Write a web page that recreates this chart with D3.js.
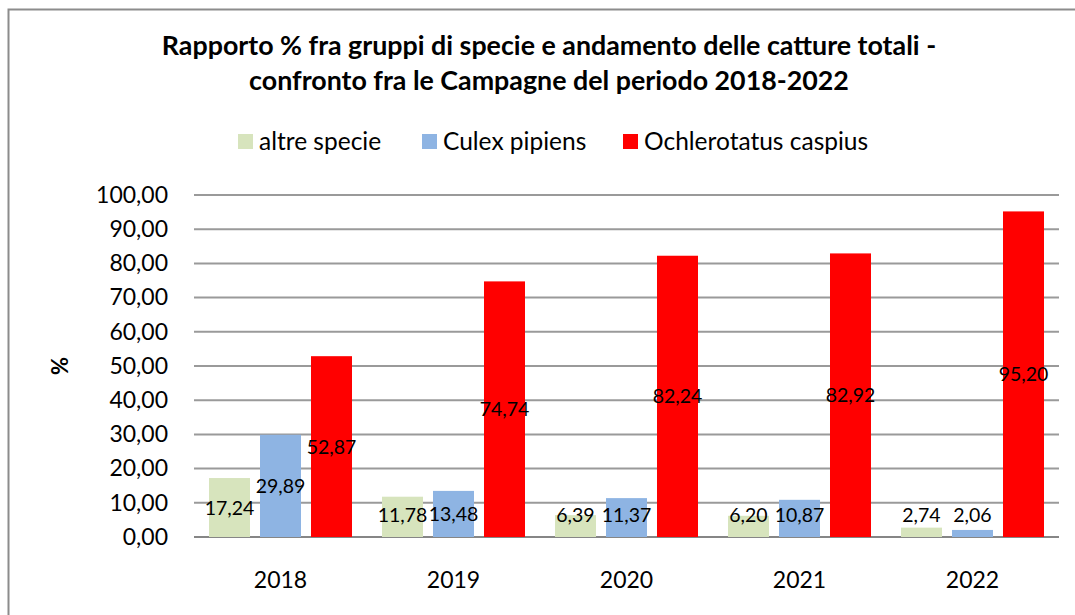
<!DOCTYPE html>
<html>
<head>
<meta charset="utf-8">
<script src="https://cdn.jsdelivr.net/npm/d3@7"></script>
<style>
	body { margin: 0; background: #ffffff; }
	svg { font-family: Lato, 'Open Sans', sans-serif; }
</style>
</head>
<body>
<div id="chart_div" style="width:1075px;height:615px;"></div>
<script>
var years = ['2018', '2019', '2020', '2021', '2022'];
var series_names = ['altre specie', 'Culex pipiens', 'Ochlerotatus caspius'];
var series_colours = ['#D7E4BD', '#8EB4E3', '#FF0000'];
var altre_specie = [17.24, 11.78, 6.39, 6.20, 2.74];
var culex_pipiens = [29.89, 13.48, 11.37, 10.87, 2.06];
var ochlerotatus_caspius = [52.87, 74.74, 82.24, 82.92, 95.2];
var y_ticks = [0, 10, 20, 30, 40, 50, 60, 70, 80, 90, 100];
var title_lines = [
	'Rapporto % fra gruppi di specie e andamento delle catture totali -',
	'confronto fra le Campagne del periodo 2018-2022'
];

var all_values = [altre_specie, culex_pipiens, ochlerotatus_caspius];

function draw_chart() {
	var svg = d3.select('#chart_div')
		.append('svg')
		.attr('width', 1075)
		.attr('height', 615);

	//outer chart frame (cut off on the right and bottom)
	svg.append('rect')
		.attr('x', 8.5)
		.attr('y', 9.5)
		.attr('width', 1200)
		.attr('height', 800)
		.attr('fill', 'none')
		.attr('stroke', '#8c8c8c')
		.attr('stroke-width', 2);

	var plot = { left: 194, right: 1059, top: 195, bottom: 537 };

	var x0 = d3.scaleBand()
		.domain(years)
		.range([plot.left, plot.right])
		.paddingInner(0.1734)
		.paddingOuter(0.0867);
	var x1 = d3.scaleBand()
		.domain(series_names)
		.range([0, x0.bandwidth()])
		.paddingInner(0.196);
	var y = d3.scaleLinear()
		.domain([0, 100])
		.range([plot.bottom, plot.top]);

	var comma_format = function (v) {
		return d3.format('.2f')(v).replace('.', ',');
	};

	//gridlines
	svg.append('g')
		.selectAll('line')
		.data(y_ticks)
		.enter()
		.append('line')
		.attr('x1', plot.left)
		.attr('x2', plot.right)
		.attr('y1', (d) => y(d))
		.attr('y2', (d) => y(d))
		.attr('stroke', (d) => (d === 0 ? '#868686' : '#9a9a9a'))
		.attr('stroke-width', 2);

	//y axis labels
	var y_axis = d3.axisLeft(y)
		.tickValues(y_ticks)
		.tickSize(0)
		.tickPadding(0)
		.tickFormat(comma_format);
	var y_group = svg.append('g')
		.attr('transform', 'translate(168,0)')
		.call(y_axis);
	y_group.select('.domain').remove();
	y_group.selectAll('text')
		.attr('font-family', 'Lato, sans-serif')
		.attr('font-size', 23)
		.attr('fill', '#000000');

	//x axis labels
	var x_axis = d3.axisBottom(x0).tickSize(0).tickPadding(0);
	var x_group = svg.append('g')
		.attr('transform', 'translate(0,' + plot.bottom + ')')
		.call(x_axis);
	x_group.select('.domain').remove();
	x_group.selectAll('text')
		.attr('font-family', 'Lato, sans-serif')
		.attr('font-size', 23)
		.attr('fill', '#000000')
		.attr('dy', null)
		.attr('y', 51);

	//bars
	var bar_data = [];
	for (var s in series_names) {
		for (var i in years) {
			bar_data.push({
				year: years[i],
				series: series_names[s],
				value: all_values[s][i],
				fill: series_colours[s]
			});
		}
	}

	var bars = svg.append('g');
	bars.selectAll('rect')
		.data(bar_data)
		.enter()
		.append('rect')
		.attr('x', (d) => x0(d.year) + x1(d.series))
		.attr('y', (d) => y(d.value))
		.attr('width', x1.bandwidth())
		.attr('height', (d) => y(0) - y(d.value))
		.attr('fill', (d) => d.fill);

	//data labels, centred on bar but kept above the axis
	bars.selectAll('text')
		.data(bar_data)
		.enter()
		.append('text')
		.attr('x', (d) => x0(d.year) + x1(d.series) + x1.bandwidth() / 2)
		.attr('y', (d) => Math.min(y(d.value / 2), y(0) - 22))
		.attr('dy', '0.36em')
		.attr('text-anchor', 'middle')
		.attr('font-size', 19.5)
		.attr('fill', '#000000')
		.text((d) => comma_format(d.value));

	//title
	svg.append('g')
		.selectAll('text')
		.data(title_lines)
		.enter()
		.append('text')
		.attr('x', 549)
		.attr('y', (d, i) => 55 + i * 35)
		.attr('text-anchor', 'middle')
		.attr('font-weight', 'bold')
		.attr('font-size', 26.8)
		.attr('fill', '#000000')
		.text((d) => d);

	//y axis title
	svg.append('text')
		.attr('transform', 'translate(68,' + (plot.top + plot.bottom) / 2 + ') rotate(-90)')
		.attr('text-anchor', 'middle')
		.attr('font-weight', 'bold')
		.attr('font-size', 22)
		.attr('fill', '#000000')
		.text('%');

	//legend
	var legend_x = [238, 422, 623];
	var legend = svg.append('g')
		.selectAll('g')
		.data(series_names)
		.enter()
		.append('g')
		.attr('transform', (d, i) => 'translate(' + legend_x[i] + ',0)');
	legend.append('rect')
		.attr('x', 0)
		.attr('y', 134)
		.attr('width', 15)
		.attr('height', 15)
		.attr('fill', (d, i) => series_colours[i]);
	legend.append('text')
		.attr('x', 21)
		.attr('y', 150)
		.attr('font-size', 24.5)
		.attr('fill', '#000000')
		.text((d) => d);
}

draw_chart();
</script>
</body>
</html>
